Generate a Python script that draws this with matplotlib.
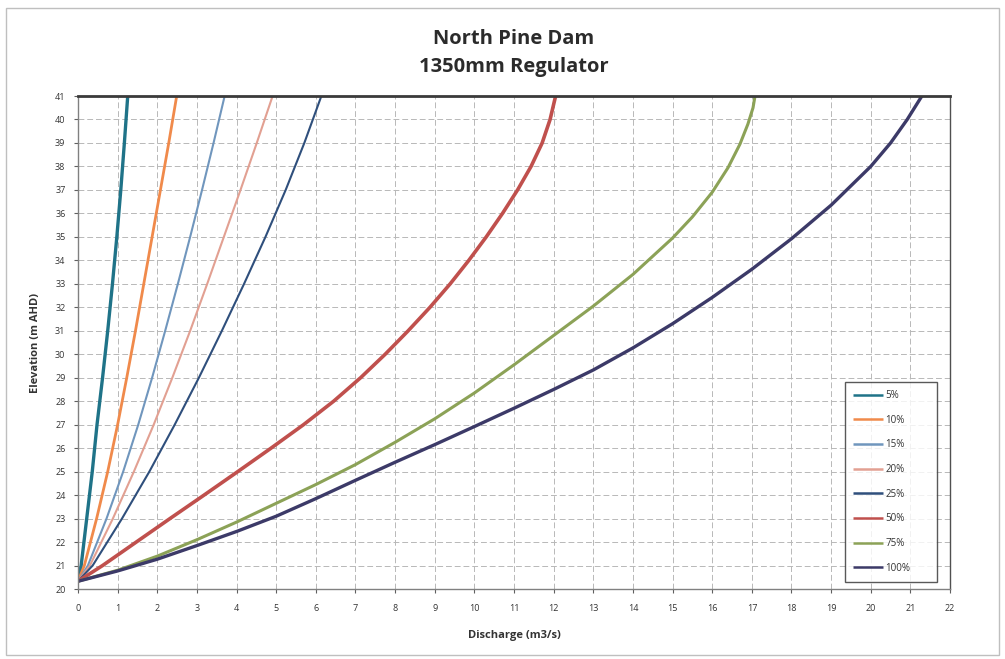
import matplotlib
matplotlib.use("Agg")
import matplotlib.pyplot as plt
from matplotlib.patches import Rectangle

# ---------------- data ----------------
labels = ["5%", "10%", "15%", "20%", "25%", "50%", "75%", "100%"]

# Left-hand (small opening) curves share these elevation levels
elev_small = [20.33, 21, 23, 25, 27, 29, 31, 33, 35, 37, 39, 41]
q_5 = [0, 0.08, 0.22, 0.36, 0.48, 0.62, 0.75, 0.87, 0.98, 1.08, 1.17, 1.255]
q_10 = [0, 0.16, 0.47, 0.75, 1.00, 1.23, 1.45, 1.66, 1.87, 2.08, 2.29, 2.49]
q_15 = [0, 0.25, 0.72, 1.14, 1.52, 1.87, 2.20, 2.52, 2.83, 3.13, 3.42, 3.70]
q_20 = [0, 0.30, 0.88, 1.41, 1.91, 2.38, 2.83, 3.26, 3.68, 4.10, 4.51, 4.91]
q_25 = [0, 0.37, 1.11, 1.80, 2.44, 3.05, 3.63, 4.19, 4.73, 5.24, 5.71, 6.14]

h_50 = [20.33, 21, 22, 23, 24, 25, 26, 27, 28, 29, 30, 31,
        32, 33, 34, 35, 36, 37, 38, 39, 40, 41]
q_50 = [0, 0.62, 1.47, 2.32, 3.18, 4.03, 4.87, 5.69, 6.45, 7.13, 7.75, 8.33,
        8.88, 9.39, 9.86, 10.30, 10.71, 11.09, 11.43, 11.71, 11.91, 12.05]

q_75 = [0, 1, 2, 3, 4, 5, 6, 7, 8, 9, 10, 11, 12, 13, 14, 15, 15.5, 16.0,
        16.4, 16.7, 16.9, 17.03, 17.08]
h_75 = [20.33, 20.8, 21.4, 22.1, 22.85, 23.65, 24.45, 25.3, 26.25, 27.25,
        28.35, 29.55, 30.8, 32.05, 33.4, 34.95, 35.85, 36.9,
        37.95, 38.95, 39.8, 40.5, 41.0]

q_100 = [0, 1, 2, 3, 4, 5, 6, 7, 8, 9, 10, 11, 12, 13, 14, 15, 16, 17, 18,
         19, 20, 20.5, 20.92, 21.29]
h_100 = [20.33, 20.77, 21.27, 21.85, 22.45, 23.1, 23.85, 24.63, 25.4, 26.15,
         26.92, 27.7, 28.5, 29.33, 30.27, 31.3, 32.42, 33.62, 34.92, 36.35,
         38.0, 39.0, 40.0, 41.0]

x_ticks = list(range(0, 23))
y_ticks = list(range(20, 42))

title = "North Pine Dam\n1350mm Regulator"
x_label = "Discharge (m3/s)"
y_label = "Elevation (m AHD)"

# ---------------- styling ----------------
colors = ["#1f7388", "#f08a4b", "#7096bd", "#e2a092", "#2f4f7c",
          "#c0504d", "#8ca257", "#3c3a68"]
widths = [2.4, 2.0, 1.5, 1.5, 1.5, 2.6, 2.2, 2.4]

series = [(q_5, elev_small), (q_10, elev_small), (q_15, elev_small),
          (q_20, elev_small), (q_25, elev_small), (q_50, h_50),
          (q_75, h_75), (q_100, h_100)]

plt.rcParams['font.family'] = ['Open Sans', 'DejaVu Sans']

fig = plt.figure(figsize=(10.05, 6.59), dpi=100)
fig.patch.set_facecolor("white")
fig.patches.append(Rectangle((0.006, 0.006), 0.988, 0.982, transform=fig.transFigure,
                             fill=False, edgecolor="#bfbfbf", linewidth=1.0))

ax = fig.add_axes([0.0776, 0.1062, 0.8677, 0.7481])

for (q, h), lab, c, w in zip(series, labels, colors, widths):
    ax.plot(q, h, color=c, linewidth=w, label=lab, solid_capstyle="butt",
            solid_joinstyle="round")

ax.set_xlim(0, 22)
ax.set_ylim(20, 41)
ax.set_xticks(x_ticks)
ax.set_yticks(y_ticks)
ax.tick_params(axis="both", labelsize=6.5, length=3, width=0.8, color="#606060",
               labelcolor="#333333")
ax.tick_params(axis="x", pad=8)
ax.tick_params(axis="y", pad=6)

ax.grid(True, which="major", color="#b8b8b8", linestyle=(0, (6, 3)), linewidth=0.7)
ax.set_axisbelow(True)

for side, sp in ax.spines.items():
    sp.set_color("#505050")
    sp.set_linewidth(1.0)
ax.spines["top"].set_linewidth(2.0)
ax.spines["top"].set_color("#3a3a3a")
ax.spines["left"].set_color("#808080")
ax.spines["bottom"].set_color("#808080")

ax.set_xlabel(x_label, fontsize=8, fontweight="bold", color="#333333", labelpad=12)
ax.set_ylabel(y_label, fontsize=8, fontweight="bold", color="#333333", labelpad=10)

fig.text(0.511, 0.920, title, ha="center", va="center", fontsize=14.5,
         fontweight="bold", color="#2b2b2b", linespacing=1.55)

leg = ax.legend(loc="upper left", bbox_to_anchor=(0.8796, 0.0, 0.1055, 0.4199),
                mode="expand", fontsize=7,
                frameon=True, fancybox=False, edgecolor="#303030",
                handlelength=3.1, handletextpad=0.2, labelspacing=1.4,
                borderpad=0.85, borderaxespad=0)
leg.get_frame().set_linewidth(1.0)
for line in leg.get_lines():
    line.set_linewidth(1.8)
for t in leg.get_texts():
    t.set_color("#333333")

fig.savefig("out.png", dpi=100)
